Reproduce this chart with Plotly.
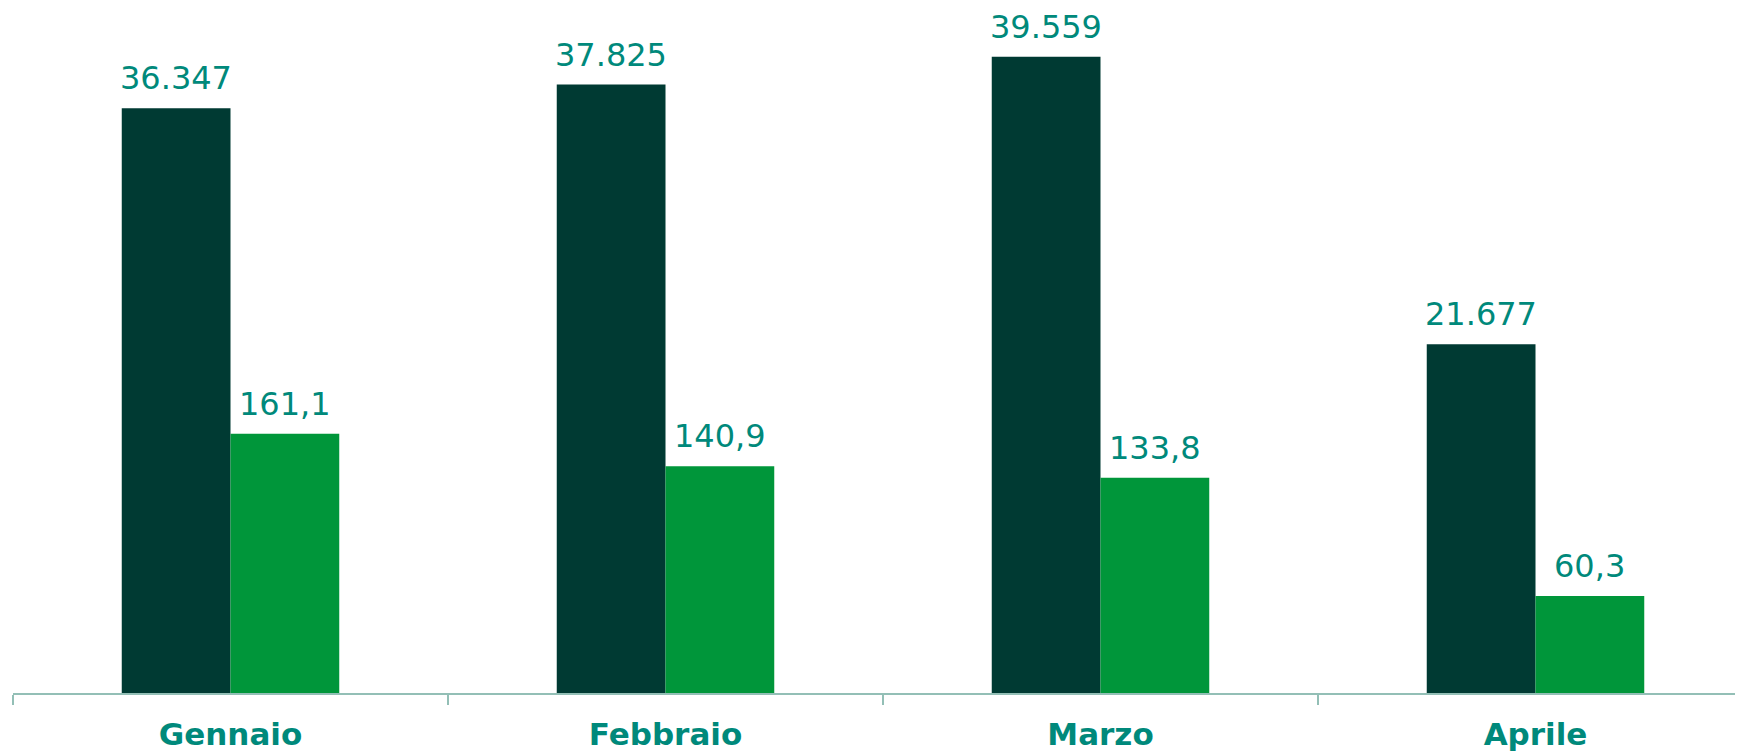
import plotly.graph_objects as go

mesi = ['Gennaio', 'Febbraio', 'Marzo', 'Aprile']
valori_scuri = [36347, 37825, 39559, 21677]
valori_chiari = [161.1, 140.9, 133.8, 60.3]

DARK = '#003A33'
LIGHT = '#00963A'
TEAL = '#00897B'
AXIS = '#93BFB6'


def fmt_migliaia(v):
    return f'{v:,.0f}'.replace(',', '.')


def fmt_decimale(v):
    return f'{v:.1f}'.replace('.', ',')


# the page body adds an 8px margin, so the figure is a bit smaller than the window
y_max = 42586
fig = go.Figure()
fig.add_trace(go.Bar(x=mesi, y=valori_scuri, width=0.25, offset=-0.25,
                     marker_color=DARK, marker_line_width=0, yaxis='y'))
fig.add_trace(go.Bar(x=mesi, y=valori_chiari, width=0.25, offset=0,
                     marker_color=LIGHT, marker_line_width=0, yaxis='y2'))

annotations = []
for i, (a, b) in enumerate(zip(valori_scuri, valori_chiari)):
    annotations.append(dict(x=i - 0.125, y=a, xref='x', yref='y', text=fmt_migliaia(a),
                            showarrow=False, yanchor='bottom', yshift=9,
                            font=dict(family='DejaVu Sans', size=32, color=TEAL)))
    annotations.append(dict(x=i + 0.125, y=b, xref='x', yref='y2', text=fmt_decimale(b),
                            showarrow=False, yanchor='bottom', yshift=9,
                            font=dict(family='DejaVu Sans', size=32, color=TEAL)))

fig.update_layout(
    width=1735, height=744,
    margin=dict(l=5, r=0, t=0, b=59),
    paper_bgcolor='white', plot_bgcolor='white',
    showlegend=False,
    annotations=annotations,
    xaxis=dict(range=[-0.5, 3.477], showline=True, linecolor=AXIS, linewidth=2,
               ticks='outside', tickson='boundaries', ticklen=10, tickwidth=2, tickcolor=AXIS,
               showgrid=False, zeroline=False, automargin=False, ticklabelstandoff=13,
               tickfont=dict(family='DejaVu Sans', size=31, color=TEAL, weight='bold')),
    yaxis=dict(range=[0, y_max], visible=False, showgrid=False, zeroline=False,
               automargin=False),
    yaxis2=dict(range=[0, y_max / 100], visible=False, showgrid=False, zeroline=False,
                overlaying='y', automargin=False),
)

fig.write_html('out.html')
